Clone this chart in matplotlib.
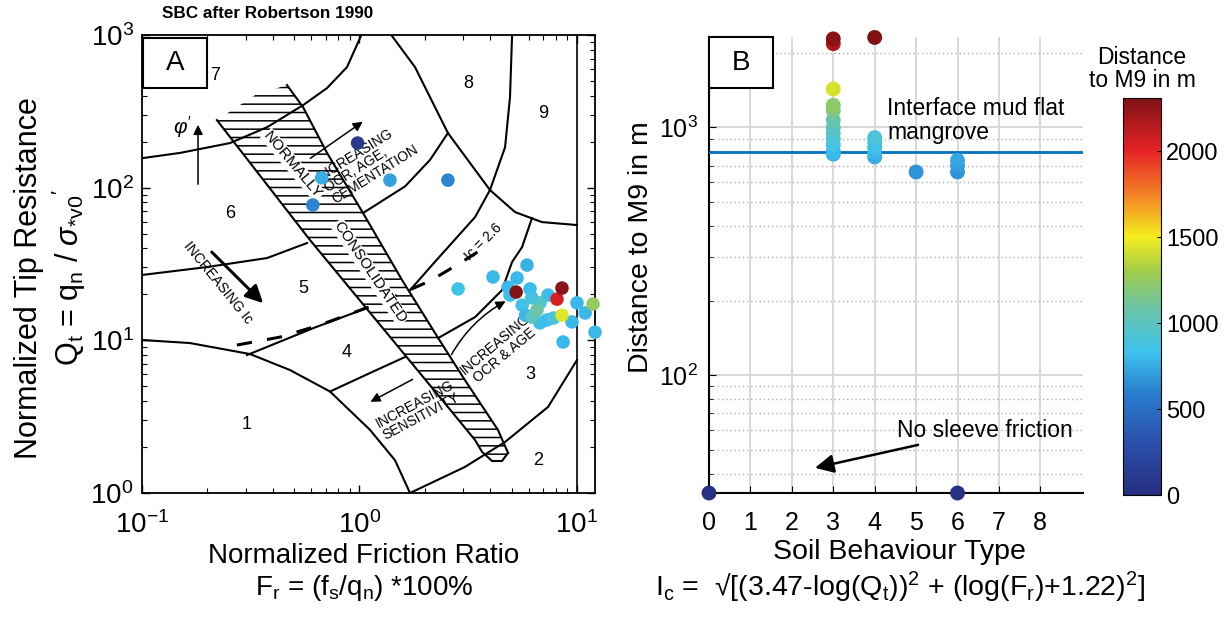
import matplotlib
matplotlib.use('Agg')
import matplotlib.pyplot as plt
from matplotlib.colors import LinearSegmentedColormap
from matplotlib.patches import Polygon, Rectangle

plt.rcParams['font.family'] = ['Liberation Sans', 'DejaVu Sans']
plt.rcParams['mathtext.fontset'] = 'custom'
plt.rcParams['mathtext.rm'] = 'Liberation Sans'
plt.rcParams['mathtext.it'] = 'Liberation Sans:italic'
plt.rcParams['mathtext.bf'] = 'Liberation Sans:bold'
plt.rcParams['hatch.linewidth'] = 1.1

# ---- panel A: CPT points on the Robertson chart ----
fr_pts = [0.98, 0.67, 0.61, 1.38, 2.55, 2.84, 4.11, 5.89, 5.30, 4.82, 6.08, 4.92,
          7.36, 10.0, 10.9, 9.48, 6.76, 7.28, 12.1, 8.63, 5.6, 6.2, 7.8, 5.8,
          6.76, 6.21, 6.55, 8.53, 11.85, 8.09, 8.53, 5.25]
qt_pts = [196, 116, 77, 112, 112, 21.7, 26.0, 31.1, 25.6, 22.3, 21.7, 19.8,
          19.8, 17.6, 15.1, 13.2, 13.0, 13.6, 11.3, 9.75, 17.0, 19.0, 14.0, 14.6,
          17.6, 14.2, 15.8, 14.6, 17.3, 18.6, 22.0, 20.7]
dist_a = [100, 760, 620, 720, 620, 850, 800, 780, 800, 800, 820, 820,
          820, 800, 800, 800, 820, 820, 800, 800, 850, 880, 900, 800,
          950, 1000, 1100, 1450, 1250, 2050, 2280, 2300]

# ---- panel B: soil behaviour type vs distance ----
sbt = [3, 3, 3, 3, 3, 3, 3, 3, 3, 3, 3, 3, 4, 4, 4, 4, 4, 4, 5, 6, 6, 6, 0, 6]
dist_b = [780, 800, 850, 900, 950, 1000, 1070, 1170, 1230, 1430, 2180, 2280,
          760, 790, 830, 870, 910, 2310, 661, 661, 700, 737, 33.4, 33.4]
interface_dist = 793
sbt_ticks = [0, 1, 2, 3, 4, 5, 6, 7, 8]
cbar_ticks = [0, 500, 1000, 1500, 2000]

# ---- Robertson (1990) chart boundaries, (Fr, Qt) ----
zone1_fr = [0.1, 0.166, 0.314, 0.479, 0.732, 1.118, 1.456, 1.707]
zone1_qt = [10.05, 9.6, 8.13, 6.39, 4.62, 2.59, 1.64, 1.0]
zone2_fr = [1.707, 3.05, 4.67, 7.36, 10.0]
zone2_qt = [1.0, 1.48, 2.16, 3.66, 7.43]
zone67_fr = [0.1, 0.150, 0.254, 0.376, 0.550, 0.709, 0.876, 1.02]
zone67_qt = [156, 169, 196, 249, 347, 449, 616, 1000]
zone8_fr = [1.40, 1.80, 2.55, 3.98, 5.19, 6.90, 10.0]
zone8_qt = [1000, 616, 228, 96.5, 69.2, 59.5, 56.9]
zone89_fr = [5.03, 4.92, 4.67, 3.98]
zone89_qt = [1000, 392, 184, 96.5]
zone68_fr = [1.038, 1.62, 2.11, 2.55]
zone68_qt = [68.2, 102, 152, 228]
zone5r_fr = [1.707, 2.155, 3.40, 3.98]
zone5r_qt = [21.3, 31.1, 64.2, 96.5]
zone34r_fr = [2.30, 3.40, 4.52, 5.03, 5.59, 6.21]
zone34r_qt = [10.35, 14.2, 21.3, 32.6, 40.8, 63.2]
zone45l_fr = [0.304, 0.611, 1.083]
zone45l_qt = [8.01, 12.0, 16.3]
zone34l_fr = [0.732, 1.118, 1.62]
zone34l_qt = [4.62, 6.11, 7.78]
zone56l_fr = [0.1, 0.199, 0.376, 0.574]
zone56l_qt = [26.8, 30.2, 34.6, 43.4]
ic26_fr = [0.273, 0.431, 0.658, 1.243, 2.11, 2.96, 3.98]
ic26_qt = [9.31, 10.5, 12.6, 17.6, 24.5, 32.6, 42.7]
# normally consolidated band (left edge, rounded tip, right edge, top)
band_fr = [0.221, 0.592, 2.55, 3.40, 3.66, 4.07, 4.52, 4.82, 4.33, 3.05, 2.30,
           1.57, 1.038, 0.709, 0.550, 0.464, 0.331]
band_qt = [277, 45.4, 3.66, 2.22, 1.86, 1.62, 1.62, 1.83, 2.59, 5.5, 10.35,
           24.8, 68.2, 169, 337, 470, 404]

vmax = max(max(dist_a), max(dist_b))
cmap = LinearSegmentedColormap.from_list('jet_print', [
    (0.00, (0.15, 0.18, 0.50)), (0.12, (0.17, 0.30, 0.66)),
    (0.25, (0.16, 0.48, 0.80)), (0.36, (0.24, 0.76, 0.93)),
    (0.47, (0.42, 0.77, 0.66)), (0.56, (0.62, 0.80, 0.30)),
    (0.65, (0.96, 0.93, 0.12)), (0.76, (0.95, 0.50, 0.15)),
    (0.87, (0.90, 0.13, 0.15)), (1.00, (0.50, 0.07, 0.08))])

fig = plt.figure(figsize=(12.3, 6.21), dpi=100)
axA = fig.add_axes([142 / 1230, 1 - 493 / 621, 453 / 1230, 458 / 621])
axB = fig.add_axes([709 / 1230, 1 - 493 / 621, 374 / 1230, 456 / 621])
cax = fig.add_axes([1123 / 1230, 1 - 495 / 621, 38 / 1230, 397 / 621])

# ---------------- panel A ----------------
axA.set_xscale('log')
axA.set_yscale('log')
axA.set_xlim(0.1, 12.1)
axA.set_ylim(1, 1000)

band = list(zip(band_fr, band_qt))
axA.add_patch(Polygon(band, closed=True, facecolor='none', edgecolor='k',
                      linewidth=0, hatch='--', zorder=1))
lw = 1.5
axA.plot(band_fr[:8], band_qt[:8], color='k', lw=lw)
axA.plot(band_fr[7:16], band_qt[7:16], color='k', lw=lw)
for fx, qy in [(zone1_fr, zone1_qt), (zone2_fr, zone2_qt), (zone67_fr, zone67_qt),
               (zone8_fr, zone8_qt), (zone89_fr, zone89_qt), (zone68_fr, zone68_qt),
               (zone5r_fr, zone5r_qt), (zone34r_fr, zone34r_qt), (zone45l_fr, zone45l_qt),
               (zone34l_fr, zone34l_qt), (zone56l_fr, zone56l_qt)]:
    axA.plot(fx, qy, color='k', lw=lw, zorder=2)
axA.plot(ic26_fr, ic26_qt, color='k', lw=2.2, ls=(0, (5, 5)), zorder=2)
axA.axvline(10, color='k', lw=1.2)

# zone numbers
for s, fx, qy in [('1', 0.304, 2.79), ('2', 6.62, 1.64), ('3', 6.08, 5.93),
                  ('4', 0.876, 8.38), ('5', 0.55, 22.0), ('6', 0.254, 68.2),
                  ('7', 0.217, 546), ('8', 3.15, 484), ('9', 6.98, 308)]:
    axA.text(fx, qy, s, fontsize=13, ha='center', va='center')

wbox = dict(facecolor='white', edgecolor='none', pad=0.5)
axA.text(0.494, 141, 'NORMALLY', fontsize=11, rotation=-50, ha='center',
         va='center', bbox=wbox, zorder=3)
axA.text(1.118, 28.0, 'CONSOLIDATED', fontsize=11, rotation=-56, ha='center',
         va='center', bbox=wbox, zorder=3)
axA.text(1.094, 145, 'INCREASING\nOCR, AGE,\nCEMENTATION', fontsize=10,
         rotation=32, ha='center', va='center', multialignment='left',
         linespacing=1.0, zorder=3)
axA.text(0.223, 23.7, 'INCREASING Ic', fontsize=10, rotation=-51,
         ha='center', va='center', zorder=3)
axA.text(4.43, 8.64, 'INCREASING\nOCR & AGE', fontsize=10, rotation=40,
         ha='center', va='center', linespacing=1.0, zorder=3)
axA.text(1.86, 3.50, 'INCREASING\nSENSITIVITY', fontsize=10, rotation=28,
         ha='center', va='center', linespacing=1.0, zorder=3)
axA.text(3.7, 44, 'Ic = 2.6', fontsize=10, rotation=45, ha='center',
         va='center', zorder=3)
axA.text(0.154, 249, r"$\varphi'$", fontsize=15, ha='center', va='center')

thin = dict(arrowstyle='-|>', color='k', lw=1.1, mutation_scale=14)
axA.annotate('', xy=(0.181, 269), xytext=(0.181, 101), arrowprops=thin)
axA.annotate('', xy=(1.06, 277), xytext=(0.58, 152), arrowprops=thin)
axA.annotate('', xy=(4.82, 18.4), xytext=(2.61, 7.78),
             arrowprops=dict(thin, connectionstyle='arc3,rad=-0.15'))
axA.annotate('', xy=(1.094, 3.88), xytext=(1.80, 5.66), arrowprops=thin)
axA.annotate('', xy=(0.368, 17.0), xytext=(0.205, 39.0),
             arrowprops=dict(arrowstyle='-|>', color='k', lw=2.2,
                             mutation_scale=26))

axA.scatter(fr_pts, qt_pts, c=dist_a, cmap=cmap, vmin=0, vmax=vmax, s=95,
            edgecolors='none', zorder=5, clip_on=False)

axA.add_patch(Rectangle((0.002, 0.884), 0.1415, 0.109, transform=axA.transAxes,
                        facecolor='white', edgecolor='k', lw=1.5, zorder=6))
axA.text(0.073, 0.938, 'A', transform=axA.transAxes, fontsize=20,
         ha='center', va='center', zorder=7)

for sp in axA.spines.values():
    sp.set_linewidth(1.3)
axA.tick_params(which='both', direction='in', top=True, right=True,
                labelsize=20)
axA.tick_params(which='major', length=6, width=1.0)
axA.tick_params(which='minor', length=3.5, width=0.8)
axA.tick_params(axis='x', pad=13)
axA.tick_params(axis='y', pad=6)
axA.set_xlabel('Normalized Friction Ratio\n'
               r'F$_\mathrm{r}$ = (f$_\mathrm{s}$/q$_\mathrm{n}$) *100%',
               fontsize=20, linespacing=1.2, va='center')
axA.xaxis.set_label_coords(0.49, -0.1747)
axA.set_ylabel('Normalized Tip Resistance\n'
               r'Q$_\mathrm{t}$ = q$_\mathrm{n}$ / $\sigma_{\mathrm{*v0}}$$^{\prime}$',
               fontsize=22, linespacing=1.2, va='center')
axA.yaxis.set_label_coords(-0.2, 0.47)
fig.text(268 / 1230, 1 - 13 / 621, 'SBC after Robertson 1990', fontsize=12.3,
         fontweight='bold', ha='center', va='center')

# ---------------- panel B ----------------
axB.set_yscale('log')
axB.set_xlim(0, 9.03)
axB.set_ylim(33.4, 2320)
axB.set_xticks(sbt_ticks)
axB.grid(which='major', color='#d6d6d6', lw=1.3, ls='-')
axB.grid(which='minor', axis='y', color='#b0b0b0', lw=1.0, ls=(0, (1, 2)))
axB.set_axisbelow(True)
axB.spines['top'].set_visible(False)
axB.spines['right'].set_visible(False)
axB.spines['left'].set_linewidth(1.5)
axB.spines['bottom'].set_linewidth(1.5)
axB.tick_params(which='both', direction='in', labelsize=18)
axB.tick_params(which='major', length=5)
axB.tick_params(which='minor', length=3)
axB.tick_params(axis='x', pad=13)
axB.tick_params(axis='y', pad=8)

axB.axhline(interface_dist, color=(0.0, 0.447, 0.741), lw=2, zorder=3)
sc = axB.scatter(sbt, dist_b, c=dist_b, cmap=cmap, vmin=0, vmax=vmax, s=115,
                 edgecolors='none', zorder=5, clip_on=False)
axB.text(4.3, 1067, 'Interface mud flat\nmangrove', fontsize=16.5,
         ha='left', va='center', linespacing=1.1)
axB.annotate('No sleeve friction', xy=(2.56, 42.2), xytext=(4.54, 60),
             fontsize=16.5, ha='left', va='center',
             arrowprops=dict(arrowstyle='-|>', color='k', lw=1.8,
                             mutation_scale=28, shrinkA=2, shrinkB=0))

axB.add_patch(Rectangle((0.0, 0.888), 0.171, 0.112, transform=axB.transAxes,
                        facecolor='white', edgecolor='k', lw=1.5, zorder=6,
                        clip_on=False))
axB.text(0.0855, 0.944, 'B', transform=axB.transAxes, fontsize=20,
         ha='center', va='center', zorder=7)

axB.set_ylabel('Distance to M9 in m', fontsize=20.5, va='center')
axB.yaxis.set_label_coords(-0.182, 0.539)
axB.set_xlabel('Soil Behaviour Type\n'
               r'I$_\mathrm{c}$ =  √[(3.47-log(Q$_\mathrm{t}$))$^2$ + '
               r'(log(F$_\mathrm{r}$)+1.22)$^2$]', fontsize=20.5,
               linespacing=1.2, va='center')
axB.xaxis.set_label_coords(0.51, -0.173)

cb = fig.colorbar(sc, cax=cax, ticks=cbar_ticks)
cb.outline.set_linewidth(0.8)
cax.tick_params(labelsize=17, direction='in', length=3)
fig.text(1142 / 1230, 1 - 69 / 621, 'Distance\nto M9 in m', fontsize=16.5,
         ha='center', va='center', linespacing=1.05)

fig.savefig('out.png', dpi=100)
